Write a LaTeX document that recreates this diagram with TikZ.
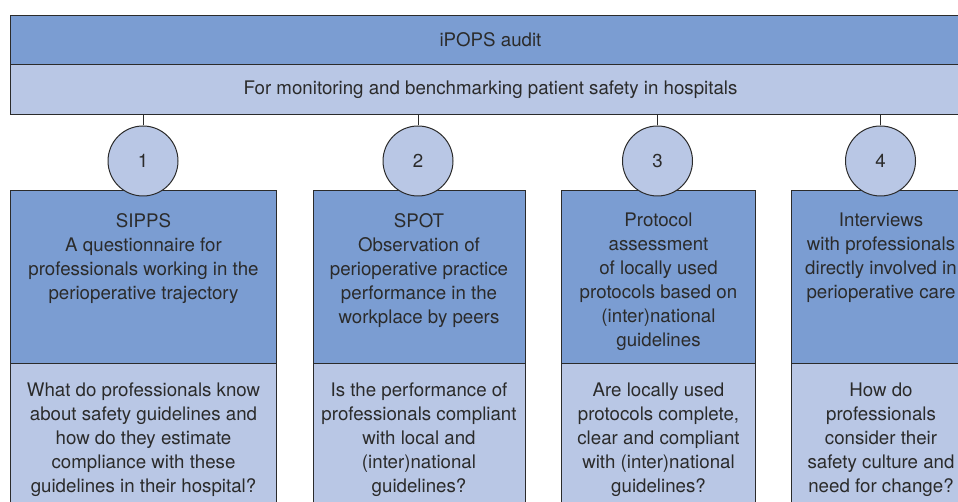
\documentclass[tikz,border=0pt]{standalone}
\usepackage{fontspec}
\setmainfont{TeX Gyre Heros}
\usetikzlibrary{positioning}
\definecolor{steel}{HTML}{7B9DD2}
\definecolor{mist}{HTML}{B9C7E5}
\definecolor{ink}{HTML}{2B2B2B}

\begin{document}
\begin{tikzpicture}[x=1pt,y=1pt,
    darkbox/.style={fill=steel, draw=ink, line width=1pt, inner sep=0pt, anchor=north west},
    lightbox/.style={fill=mist, draw=ink, line width=1pt, inner sep=0pt, anchor=north west},
    boxtext/.style={text=ink, font=\fontsize{18.7}{24}\selectfont, align=center, inner sep=0pt, anchor=north},
    num/.style={circle, fill=mist, draw=ink, line width=1pt, minimum size=70pt, inner sep=0pt, text=ink, font=\fontsize{18.7}{24}\selectfont}]
      \useasboundingbox (0,0) rectangle (958,502);
      \clip (0,0) rectangle (958,502);

      \node[darkbox, minimum width=960pt, minimum height=49pt, text=ink, font=\fontsize{18.7}{24}\selectfont] (audit) at (10,487) {iPOPS audit};
      \node[lightbox, minimum width=960pt, minimum height=50pt, text=ink, font=\fontsize{18.7}{24}\selectfont] (aim) at (10,438) {For monitoring and benchmarking patient safety in hospitals};

      \node[darkbox, minimum width=266pt, minimum height=173pt] (sipps) at (10,312) {};
      \node[darkbox, minimum width=212pt, minimum height=173pt] (spot) at (312.5,312) {};
      \node[darkbox, minimum width=194pt, minimum height=173pt] (protocol) at (561,312) {};
      \node[darkbox, minimum width=179pt, minimum height=173pt] (interviews) at (791,312) {};

      \node[lightbox, minimum width=266pt, minimum height=150pt] (q1) at (10,139) {};
      \node[lightbox, minimum width=212pt, minimum height=150pt] (q2) at (312.5,139) {};
      \node[lightbox, minimum width=194pt, minimum height=150pt] (q3) at (561,139) {};
      \node[lightbox, minimum width=179pt, minimum height=150pt] (q4) at (791,139) {};

      \node[boxtext, below=23pt of sipps.north] (sippstext) {SIPPS\\A questionnaire for\\professionals working in the\\perioperative trajectory};
      \node[boxtext, below=23pt of spot.north] (spottext) {SPOT\\Observation of\\perioperative practice\\performance in the\\workplace by peers};
      \node[boxtext, below=23pt of protocol.north] (protocoltext) {Protocol\\assessment\\of locally used\\protocols based on\\(inter)national\\guidelines};
      \node[boxtext, below=23pt of interviews.north] (interviewstext) {Interviews\\with professionals\\directly involved in\\perioperative care};

      \node[boxtext, below=20pt of q1.north] (q1text) {What do professionals know\\about safety guidelines and\\how do they estimate\\compliance with these\\guidelines in their hospital?};
      \node[boxtext, below=20pt of q2.north] (q2text) {Is the performance of\\professionals compliant\\with local and\\(inter)national\\guidelines?};
      \node[boxtext, below=20pt of q3.north] (q3text) {Are locally used\\protocols complete,\\clear and compliant\\with (inter)national\\guidelines?};
      \node[boxtext, below=20pt of q4.north] (q4text) {How do\\professionals\\consider their\\safety culture and\\need for change?};

      \node[num] (n1) at (143,341) {1};
      \node[num] (n2) at (418,341) {2};
      \node[num] (n3) at (657.5,341) {3};
      \node[num] (n4) at (880.5,341) {4};

      \draw[ink, line width=1pt] (n1.north) -- (n1.north |- aim.south);
      \draw[ink, line width=1pt] (n2.north) -- (n2.north |- aim.south);
      \draw[ink, line width=1pt] (n3.north) -- (n3.north |- aim.south);
      \draw[ink, line width=1pt] (n4.north) -- (n4.north |- aim.south);
    \end{tikzpicture}
\end{document}
